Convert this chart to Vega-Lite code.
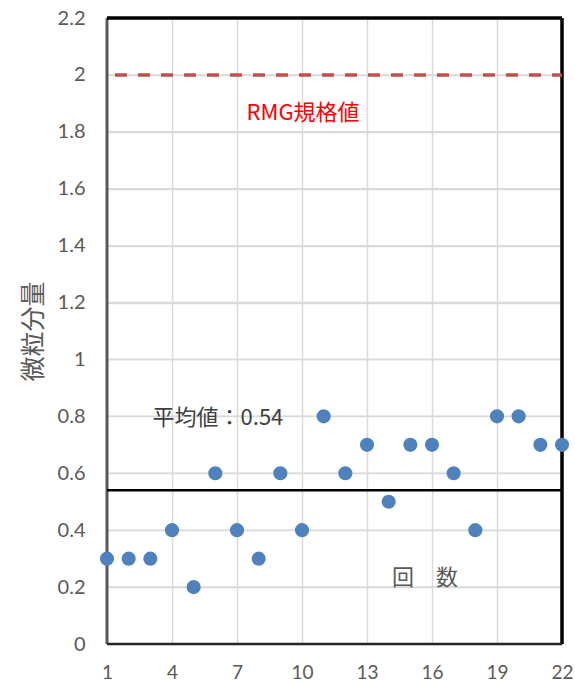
{
  "$schema": "https://vega.github.io/schema/vega-lite/v6.json",
  "width": 455,
  "height": 626,
  "autosize": {"type": "none"},
  "padding": {"left": 107, "top": 18, "right": 13, "bottom": 39},
  "background": "white",
  "config": {
    "view": {"stroke": null},
    "font": "Lato"
  },
  "datasets": {
    "points": [
      {"回数": 1, "微粒分量": 0.3},
      {"回数": 2, "微粒分量": 0.3},
      {"回数": 3, "微粒分量": 0.3},
      {"回数": 4, "微粒分量": 0.4},
      {"回数": 5, "微粒分量": 0.2},
      {"回数": 6, "微粒分量": 0.6},
      {"回数": 7, "微粒分量": 0.4},
      {"回数": 8, "微粒分量": 0.3},
      {"回数": 9, "微粒分量": 0.6},
      {"回数": 10, "微粒分量": 0.4},
      {"回数": 11, "微粒分量": 0.8},
      {"回数": 12, "微粒分量": 0.6},
      {"回数": 13, "微粒分量": 0.7},
      {"回数": 14, "微粒分量": 0.5},
      {"回数": 15, "微粒分量": 0.7},
      {"回数": 16, "微粒分量": 0.7},
      {"回数": 17, "微粒分量": 0.6},
      {"回数": 18, "微粒分量": 0.4},
      {"回数": 19, "微粒分量": 0.8},
      {"回数": 20, "微粒分量": 0.8},
      {"回数": 21, "微粒分量": 0.7},
      {"回数": 22, "微粒分量": 0.7}
    ],
    "labels": [
      {"回数": 10.05, "微粒分量": 1.866, "text": "RMG規格値", "kind": "spec"},
      {"回数": 6.12, "微粒分量": 0.794, "text": "平均値：0.54", "kind": "mean"},
      {"回数": 15.68, "微粒分量": 0.232, "text": "回　数", "kind": "axis"}
    ],
    "lines": [
      {"微粒分量": 2.0, "kind": "spec"},
      {"微粒分量": 0.54, "kind": "mean"}
    ],
    "ygrid": [
      {"微粒分量": 0.2},
      {"微粒分量": 0.4},
      {"微粒分量": 0.6},
      {"微粒分量": 0.8},
      {"微粒分量": 1.0},
      {"微粒分量": 1.2},
      {"微粒分量": 1.4},
      {"微粒分量": 1.6},
      {"微粒分量": 1.8},
      {"微粒分量": 2.0}
    ],
    "frame": [
      {"side": "left", "回数": 1},
      {"side": "right", "回数": 22},
      {"side": "top", "微粒分量": 2.2},
      {"side": "bottom", "微粒分量": 0}
    ]
  },
  "layer": [
    {
      "data": {"name": "points"},
      "mark": {"type": "circle", "size": 0, "opacity": 0},
      "encoding": {
        "x": {
          "field": "回数", "type": "quantitative",
          "scale": {"domain": [1, 22], "nice": false, "zero": false},
          "axis": {
            "values": [1, 4, 7, 10, 13, 16, 19, 22],
            "title": null,
            "grid": true, "gridColor": "#D9D9D9", "gridWidth": 1.5, "gridOpacity": 1,
            "ticks": false, "domain": false, "labelFlush": false,
            "labelFontSize": 19, "labelColor": "#595959", "labelPadding": 19,
            "labelFont": "Lato"
          }
        },
        "y": {
          "field": "微粒分量", "type": "quantitative",
          "scale": {"domain": [0, 2.2], "nice": false},
          "axis": {
            "values": [0, 0.2, 0.4, 0.6, 0.8, 1, 1.2, 1.4, 1.6, 1.8, 2, 2.2],
            "labelExpr": "datum.value == 0 ? '0' : format(datum.value, '.1~f')",
            "title": "微粒分量",
            "titleFont": "Noto Sans CJK JP", "titleFontSize": 25, "titleFontWeight": "normal",
            "titleColor": "#595959", "titlePadding": 11,
            "grid": true, "gridColor": "#D9D9D9", "gridWidth": 1.5, "gridOpacity": 1,
            "ticks": false, "domain": false,
            "labelFontSize": 20, "labelColor": "#595959", "labelPadding": 22,
            "labelFont": "Lato"
          }
        }
      }
    },
    {
      "data": {"name": "ygrid"},
      "mark": {"type": "rule", "color": "#D9D9D9", "strokeWidth": 1.5},
      "encoding": {"y": {"field": "微粒分量", "type": "quantitative"}}
    },
    {
      "data": {"name": "frame"},
      "transform": [{"filter": "datum.side == 'left'"}],
      "mark": {"type": "rule", "color": "#595959", "strokeWidth": 3},
      "encoding": {"x": {"field": "回数", "type": "quantitative"}}
    },
    {
      "data": {"name": "frame"},
      "transform": [{"filter": "datum.side == 'right'"}],
      "mark": {"type": "rule", "color": "black", "strokeWidth": 3.5},
      "encoding": {"x": {"field": "回数", "type": "quantitative"}}
    },
    {
      "data": {"name": "frame"},
      "transform": [{"filter": "datum.side == 'top'"}],
      "mark": {"type": "rule", "color": "black", "strokeWidth": 3.5},
      "encoding": {"y": {"field": "微粒分量", "type": "quantitative"}}
    },
    {
      "data": {"name": "frame"},
      "transform": [{"filter": "datum.side == 'bottom'"}],
      "mark": {"type": "rule", "color": "#262626", "strokeWidth": 2.5},
      "encoding": {"y": {"field": "微粒分量", "type": "quantitative"}}
    },
    {
      "data": {"name": "lines"},
      "transform": [{"filter": "datum.kind == 'spec'"}],
      "mark": {"type": "rule", "color": "#C0504D", "strokeWidth": 3.5, "strokeDash": [12, 11], "strokeDashOffset": 2},
      "encoding": {"y": {"field": "微粒分量", "type": "quantitative"}}
    },
    {
      "data": {"name": "lines"},
      "transform": [{"filter": "datum.kind == 'mean'"}],
      "mark": {"type": "rule", "color": "black", "strokeWidth": 2.5},
      "encoding": {"y": {"field": "微粒分量", "type": "quantitative"}}
    },
    {
      "data": {"name": "points"},
      "mark": {"type": "circle", "size": 200, "color": "#4F81BD", "opacity": 1},
      "encoding": {
        "x": {"field": "回数", "type": "quantitative"},
        "y": {"field": "微粒分量", "type": "quantitative"}
      }
    },
    {
      "data": {"name": "labels"},
      "mark": {"type": "text", "font": "Noto Sans CJK JP", "fontSize": 22, "align": "center", "baseline": "middle"},
      "encoding": {
        "x": {"field": "回数", "type": "quantitative"},
        "y": {"field": "微粒分量", "type": "quantitative"},
        "text": {"field": "text"},
        "color": {
          "field": "kind", "type": "nominal",
          "scale": {"domain": ["spec", "mean", "axis"], "range": ["#FF0000", "#404040", "#595959"]},
          "legend": null
        }
      }
    }
  ]
}
